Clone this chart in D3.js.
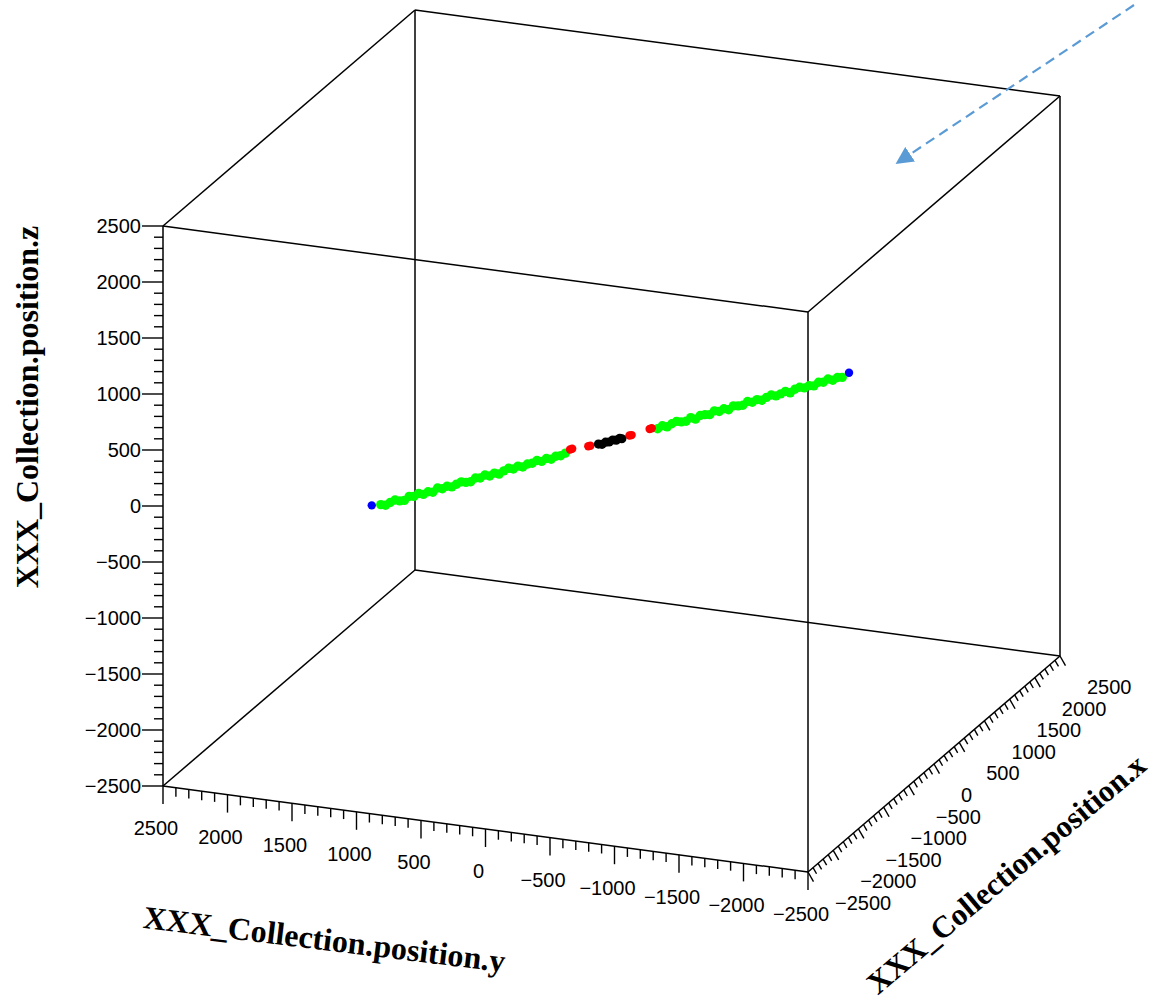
<!DOCTYPE html>
<html><head><meta charset="utf-8">
<script src="https://cdn.jsdelivr.net/npm/d3@7"></script>
<style>body{margin:0;background:#fff}svg{display:block}</style>
</head><body><svg id="c" width="1158" height="1000"></svg>
<script>
// ---------- data ----------
const axisRange = [-2500, 2500];
const majorTicks = [-2500, -2000, -1500, -1000, -500, 0, 500, 1000, 1500, 2000, 2500];
const axisTitles = { x: "XXX_Collection.position.x", y: "XXX_Collection.position.y", z: "XXX_Collection.position.z" };

// hits: [x, y, z]
const greenHits = [
 [-585,1560,-582],[-573,1528,-587],[-561,1496,-562],[-549,1464,-540],[-537,1432,-547],[-525,1400,-543],
 [-513,1368,-507],[-501,1336,-506],[-489,1304,-481],[-477,1272,-488],[-465,1240,-464],[-453,1208,-468],
 [-441,1176,-430],[-429,1144,-436],[-417,1112,-414],[-405,1080,-419],[-393,1048,-395],[-381,1016,-374],
 [-369,984,-378],[-357,952,-372],[-345,920,-339],[-333,888,-338],[-321,856,-311],[-309,824,-320],
 [-297,792,-294],[-285,760,-302],[-273,728,-273],[-261,696,-250],[-249,664,-256],[-237,632,-230],
 [-225,600,-237],[-213,568,-210],[-201,536,-203],[-189,504,-179],[-177,472,-186],[-165,440,-160],
 [-153,408,-166],[-141,376,-139],[-129,344,-135],[-117,312,-111],
 [117,-312,112],[129,-344,139],[141,-376,130],[153,-408,158],[165,-440,179],[177,-472,175],
 [189,-504,181],[201,-536,213],[213,-568,200],[225,-600,233],[237,-632,241],[249,-664,241],
 [261,-696,275],[273,-728,270],[285,-760,295],[297,-792,286],[309,-824,321],[321,-856,321],
 [333,-888,327],[345,-920,361],[357,-952,355],[369,-984,378],[381,-1016,373],[393,-1048,399],
 [405,-1080,420],[417,-1112,413],[429,-1144,431],[441,-1176,453],[453,-1208,441],[465,-1240,473],
 [477,-1272,491],[489,-1304,486],[501,-1336,505],[513,-1368,504],[525,-1400,537],[537,-1432,538],
 [549,-1464,566],[561,-1496,556],[573,-1528,581],[585,-1560,582]
];
const redHits = [
 [-105,280,-79],[-99,266,-72],[-59,157,-48],[-53,143,-44],
 [51,-136,54],[45,-122,50],[102,-272,116],[96,-258,110]
];
const blackHits = [
 [-33,88,-28],[-24,64,-30],[-15,40,-11],[-6,16,-9],[3,-8,9],[12,-32,8],[21,-56,24],[26,-70,21]
];
const blueHits = [[-608,1621,-589],[602,-1606,624]];

// ---------- projection ----------
const svg = d3.select("#c");
const O = [163, 786];   // corner x=-2500, y=+2500, z=-2500
const U = [645, 86];    // y: +2500 -> -2500
const V = [252, -216];  // x: -2500 -> +2500
const W = [0, -560];    // z: -2500 -> +2500
const sx = d3.scaleLinear().domain(axisRange).range([0, 1]);
const sy = d3.scaleLinear().domain([axisRange[1], axisRange[0]]).range([0, 1]);
const sz = d3.scaleLinear().domain(axisRange).range([0, 1]);
function P(x, y, z) {
  const a = sy(y), b = sx(x), c = sz(z);
  return [O[0] + a*U[0] + b*V[0] + c*W[0], O[1] + a*U[1] + b*V[1] + c*W[1]];
}
const lo = axisRange[0], hi = axisRange[1];
const fmt = v => (v < 0 ? "\u2212" + Math.abs(v) : String(v));

// ---------- box ----------
const edges = [
 [[lo,hi,lo],[lo,lo,lo]], [[lo,lo,lo],[lo,lo,hi]], [[lo,lo,hi],[lo,hi,hi]], [[lo,hi,hi],[lo,hi,lo]],
 [[hi,hi,lo],[hi,lo,lo]], [[hi,lo,lo],[hi,lo,hi]], [[hi,lo,hi],[hi,hi,hi]], [[hi,hi,hi],[hi,hi,lo]],
 [[lo,hi,lo],[hi,hi,lo]], [[lo,lo,lo],[hi,lo,lo]], [[lo,lo,hi],[hi,lo,hi]], [[lo,hi,hi],[hi,hi,hi]]
];
const gBox = svg.append("g").attr("stroke", "#000").attr("stroke-width", 1.5).attr("fill", "none");
edges.forEach(e => {
  const a = P(...e[0]), b = P(...e[1]);
  gBox.append("line").attr("x1", a[0]).attr("y1", a[1]).attr("x2", b[0]).attr("y2", b[1]);
});

// ---------- ticks ----------
const minor = sx.ticks(50);
const gT = svg.append("g").attr("stroke", "#000").attr("stroke-width", 1.4);
const labFont = "'Liberation Sans', Arial, Helvetica, sans-serif";
const gL = svg.append("g").attr("font-family", labFont).attr("font-size", 20).attr("fill", "#000");
function isMajor(v) { return majorTicks.includes(v); }

// z axis (x=lo, y=hi) ticks to the left
minor.forEach(v => {
  const p = P(lo, hi, v), L = isMajor(v) ? 21 : 9;
  gT.append("line").attr("x1", p[0]).attr("y1", p[1]).attr("x2", p[0] - L).attr("y2", p[1]);
});
majorTicks.forEach(v => {
  const p = P(lo, hi, v);
  gL.append("text").attr("x", 141).attr("y", p[1] + 7).attr("text-anchor", "end").text(fmt(v));
});
// y axis (x=lo, z=lo) ticks downward
minor.forEach(v => {
  const p = P(lo, v, lo), L = isMajor(v) ? 18 : 9;
  gT.append("line").attr("x1", p[0]).attr("y1", p[1]).attr("x2", p[0]).attr("y2", p[1] + L);
});
majorTicks.forEach(v => {
  const p = P(lo, v, lo);
  gL.append("text").attr("x", p[0] - 7).attr("y", p[1] + 49).attr("text-anchor", "middle").text(fmt(v));
});
// x axis (y=lo, z=lo) ticks down-right
minor.forEach(v => {
  const p = P(v, lo, lo), L = isMajor(v) ? 11 : 7;
  gT.append("line").attr("x1", p[0]).attr("y1", p[1]).attr("x2", p[0] + 0.5*L).attr("y2", p[1] + 0.87*L);
});
majorTicks.forEach(v => {
  const p = P(v, lo, lo);
  gL.append("text").attr("x", p[0] + 27).attr("y", p[1] + 38).attr("text-anchor", "start").text(fmt(v));
});

// ---------- titles ----------
const titleFont = "'Liberation Serif', 'Times New Roman', Times, serif";
const gTi = svg.append("g").attr("font-family", titleFont).attr("font-weight", "bold").attr("font-size", 32).attr("fill", "#000");
gTi.append("text").attr("text-anchor", "middle").attr("transform", "translate(38,407) rotate(-90)").text(axisTitles.z);
gTi.append("text").attr("text-anchor", "middle").attr("transform", "translate(323,950) rotate(7)").text(axisTitles.y);
gTi.append("text").attr("text-anchor", "middle").attr("font-size", 31).attr("transform", "translate(1013,882) rotate(-40)").text(axisTitles.x);

// ---------- hits ----------
const gH = svg.append("g");
function drawHits(arr, col, r) {
  gH.selectAll(null).data(arr).enter().append("circle")
    .attr("cx", d => P(d[0], d[1], d[2])[0])
    .attr("cy", d => P(d[0], d[1], d[2])[1])
    .attr("r", r).attr("fill", col);
}
drawHits(greenHits, "#00ff00", 4.7);
drawHits(redHits, "#ff0000", 4.2);
drawHits(blackHits, "#000000", 4.6);
drawHits(blueHits, "#0000ff", 4.2);

// ---------- annotation arrow ----------
const arrowStart = [1134, 5], arrowEnd = [897, 163];
const defs = svg.append("defs");
defs.append("marker").attr("id", "ah").attr("viewBox", "0 0 10 10").attr("refX", 9).attr("refY", 5)
  .attr("markerWidth", 8).attr("markerHeight", 8).attr("markerUnits", "strokeWidth").attr("orient", "auto")
  .append("path").attr("d", "M0,0 L10,5 L0,10 Z").attr("fill", "#5b9bd5");
svg.append("line").attr("x1", arrowStart[0]).attr("y1", arrowStart[1]).attr("x2", arrowEnd[0]).attr("y2", arrowEnd[1])
  .attr("stroke", "#5b9bd5").attr("stroke-width", 2.2).attr("stroke-dasharray", "10,6").attr("marker-end", "url(#ah)");
</script></body></html>
